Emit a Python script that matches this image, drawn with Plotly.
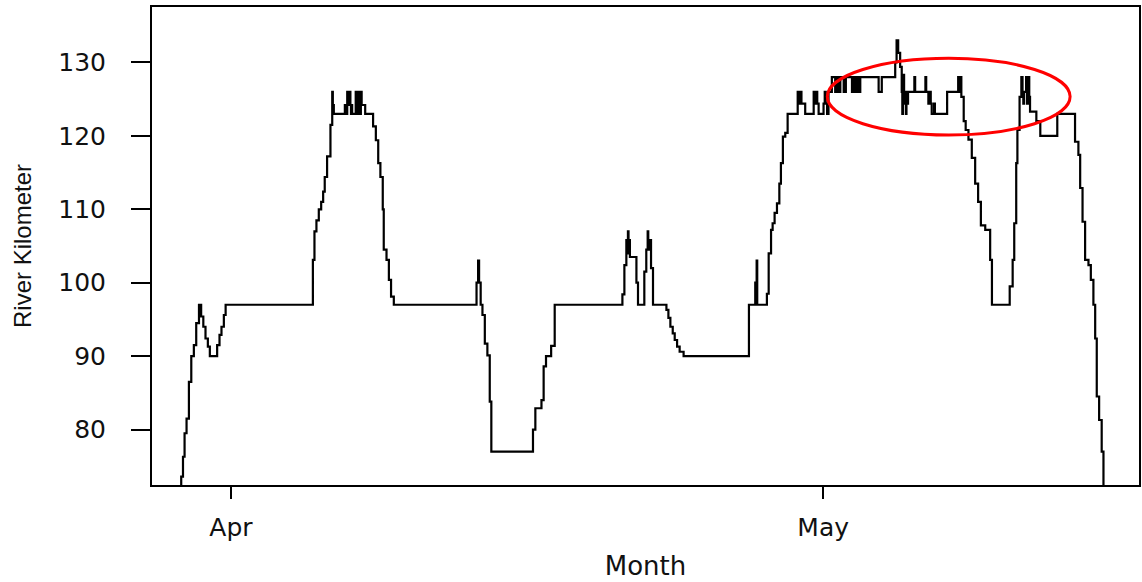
import pandas as pd
import plotly.graph_objects as go

# ---- data: time (days after 1 April) and river kilometre ----
start_date = "2013-04-01"
days_from_apr1 = [
    -2.55, -2.52, -2.43, -2.35, -2.25, -2.13, -2.01, -1.88, -1.76, -1.62,
    -1.51, -1.40, -1.29, -1.17, -1.07, -0.70, -0.58, -0.48, -0.36, -0.27,
    4.15, 4.23, 4.33, 4.45, 4.57, 4.67, 4.75, 4.87, 5.04,
    5.13, 5.16, 5.21,
    5.77, 5.80, 5.83, 5.87, 5.89, 5.92, 5.95, 5.99, 6.02, 6.05, 6.08, 6.11, 6.14,
    6.32, 6.35, 6.45, 6.48, 6.58, 6.62, 6.80,
    7.10, 7.20, 7.34, 7.46, 7.57, 7.69, 7.74, 7.88, 8.00, 8.11, 8.25,
    12.44, 12.52, 12.57, 12.65, 12.74, 12.86, 12.99, 13.11, 13.19,
    15.30, 15.42, 15.73, 15.84, 15.96, 16.22, 16.40,
    19.83, 19.93, 20.03, 20.08, 20.11, 20.14, 20.17, 20.21, 20.54, 20.62,
    20.94, 21.04, 21.11, 21.14, 21.17, 21.19, 21.28, 21.38,
    22.06, 22.16, 22.26, 22.38, 22.48, 22.60, 22.73, 22.93,
    26.24, 26.56, 26.58, 26.60, 26.63, 26.66,
    27.15, 27.24, 27.36, 27.44, 27.54, 27.66, 27.78, 27.86, 27.96, 28.08, 28.20,
    28.71, 28.76, 28.85, 28.90, 29.09,
    29.52, 29.57, 29.65, 29.70, 29.77,
    30.02, 30.08, 30.13, 30.20, 30.27, 30.44,
    30.61, 30.64, 30.68, 30.72, 30.76, 30.80, 30.84, 30.87,
    31.04, 31.08, 31.12, 31.15,
    31.46, 31.49, 31.53, 31.57, 31.61, 31.65, 31.69, 31.73, 31.77, 31.82, 31.85, 31.88,
    32.81, 32.97,
    33.65, 33.72, 33.80, 33.90, 33.98, 34.01, 34.04, 34.07, 34.10, 34.13, 34.16,
    34.19, 34.22, 34.25, 34.30,
    34.62, 34.66, 35.18, 35.22,
    35.33, 35.40, 35.45, 35.50, 35.62, 35.66,
    36.28, 36.84, 36.88, 36.92, 37.00, 37.12, 37.22, 37.36, 37.53, 37.70, 37.85,
    37.99, 38.21, 38.46, 38.55,
    39.45, 39.60, 39.68, 39.78, 39.84, 39.95, 40.04, 40.10, 40.14, 40.18, 40.28,
    40.33, 40.40, 40.44, 40.48, 40.80, 41.00, 41.86,
    42.76, 42.93, 43.02, 43.14, 43.27, 43.44, 43.56, 43.69, 43.78, 43.86, 43.98,
    44.11, 44.20,
]
river_km = [
    72, 73.6, 76.3, 79.5, 81.5, 86.5, 90, 91.5, 94.5, 97,
    95.4, 94, 92.4, 91.3, 90, 91.5, 92.9, 94, 95.6, 97,
    103.1, 107, 108.5, 110, 111, 112.4, 114.4, 117.2, 121.5,
    126, 124.2, 123,
    124.2, 123, 124.2, 123, 126, 124.2, 126, 124.2, 126, 124.2, 123, 124.2, 123,
    126, 123, 126, 123, 126, 124.2, 123,
    123, 121.3, 119.4, 116.3, 114.4, 110, 104.5, 103.1, 100.4, 98.1, 97,
    100, 103, 100, 97, 95.6, 91.7, 90.1, 83.8, 77,
    80, 82.9, 84, 88.6, 90, 91.4, 97,
    98.4, 102.4, 105.8, 104, 107, 104, 105.8, 103.5, 100, 97,
    101.5, 104.5, 107, 105.8, 104.5, 105.8, 102, 97,
    96.3, 95.2, 94, 93.1, 92.2, 91.3, 90.6, 90,
    97, 100, 97, 100, 103, 97,
    98.5, 104, 107.2, 108.1, 109.5, 110.8, 113.5, 116.3, 119.9, 120.4, 123,
    126, 124.4, 126, 124.4, 123,
    126, 124.4, 126, 124.4, 123,
    124.4, 126, 124.4, 123, 126, 128,
    126, 128, 126, 128, 126, 128, 126, 128,
    126, 128, 126, 128,
    126, 128, 126, 128, 126, 128, 126, 128, 126, 128, 126, 128,
    126, 128,
    130, 133, 131.3, 129.4, 126, 123, 126, 128.3, 126, 124.4, 126,
    123, 126, 124.4, 126,
    128, 126, 128, 126,
    124.4, 126, 124.4, 123, 124.4, 123,
    126, 128, 126, 128, 125.3, 122, 120.8, 119.5, 117, 113.5, 111,
    107.8, 107.2, 103.1, 97,
    99.5, 103.1, 108.1, 116.3, 120.8, 125.3, 128, 126, 124.4, 126, 128,
    124.4, 128, 125.3, 123.3, 122, 120, 123,
    119.2, 117.4, 112.9, 108.3, 103.1, 102.4, 100.4, 97, 92.4, 84.5, 81.3,
    77, 70,
]

month_ticks = ["2013-04-01", "2013-05-01"]
month_labels = ["Apr", "May"]
km_ticks = [80, 90, 100, 110, 120, 130]

x_range = ["2013-03-28", "2013-05-17"]
y_range = [72.45, 137.55]

# highlighted region (red ellipse), in days after 1 April and river km
ellipse_days = [30.21, 42.51]
ellipse_km = [120.12, 130.57]

base = pd.Timestamp(start_date)
times = [base + pd.Timedelta(days=d) for d in days_from_apr1]

fig = go.Figure()
fig.add_trace(go.Scatter(
    x=times, y=river_km, mode="lines",
    line=dict(color="black", width=2.2, shape="hv"),
    showlegend=False, hoverinfo="x+y",
))

fig.add_shape(
    type="circle", xref="x", yref="y",
    x0=base + pd.Timedelta(days=ellipse_days[0]),
    x1=base + pd.Timedelta(days=ellipse_days[1]),
    y0=ellipse_km[0], y1=ellipse_km[1],
    line=dict(color="#ff0000", width=3),
)

font_family = "DejaVu Sans, Liberation Sans, Arial, sans-serif"
fig.update_layout(
    width=1142, height=582, autosize=False,
    margin=dict(l=152, r=3, t=7, b=97),
    paper_bgcolor="white", plot_bgcolor="white",
    font=dict(family=font_family, color="#111111", size=25),
)
fig.update_xaxes(
    type="date", range=x_range, automargin=False,
    tickmode="array", tickvals=month_ticks, ticktext=month_labels,
    ticks="outside", ticklen=12, tickwidth=1.5, tickcolor="black",
    ticklabelstandoff=7,
    showline=True, linecolor="black", linewidth=2, mirror=True,
    showgrid=False, zeroline=False,
    tickfont=dict(size=25),
    title=dict(text="Month", font=dict(size=26), standoff=16),
)
fig.update_yaxes(
    range=y_range, automargin=False,
    tickmode="array", tickvals=km_ticks,
    ticks="outside", ticklen=19, tickwidth=1.5, tickcolor="black",
    ticklabelstandoff=20,
    showline=True, linecolor="black", linewidth=2, mirror=True,
    showgrid=False, zeroline=False,
    tickfont=dict(size=25),
    title=dict(text="River Kilometer",
               font=dict(size=24, family="Liberation Sans, Arial, sans-serif"),
               standoff=20),
)

fig.write_html(
    "out.html",
    config={"displayModeBar": False},
    post_script="document.body.style.margin='0px';document.body.style.overflow='hidden';",
)
